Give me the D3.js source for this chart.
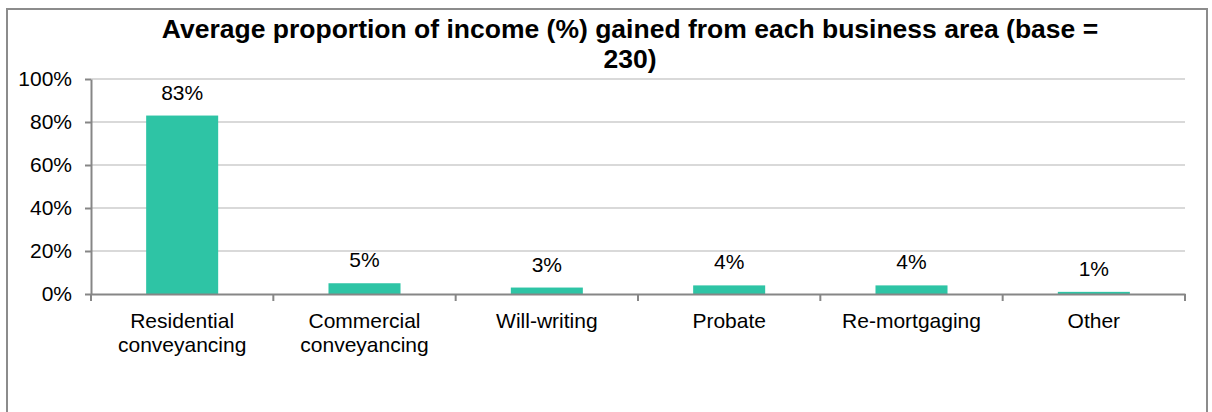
<!DOCTYPE html>
<html>
<head>
<meta charset="utf-8">
<script src="https://cdn.jsdelivr.net/npm/d3@7"></script>
<style>
  html, body { margin: 0; padding: 0; background: #fff; }
  svg { display: block; font-family: "Liberation Sans", Arial, sans-serif; }
</style>
</head>
<body>
<svg id="chart" width="1212" height="412"></svg>
<script>
const categories = ["Residential conveyancing", "Commercial conveyancing", "Will-writing", "Probate", "Re-mortgaging", "Other"];
const values = [83, 5, 3, 4, 4, 1];
const yTicks = [0, 20, 40, 60, 80, 100];
const titleLines = ["Average proportion of income (%) gained from each business area (base =", "230)"];

const svg = d3.select("#chart");
const plot = { left: 91, right: 1185, top: 79, bottom: 294 };

// outer chart frame
svg.append("rect")
  .attr("x", 7).attr("y", 9)
  .attr("width", 1200).attr("height", 420)
  .attr("fill", "#fff")
  .attr("stroke", "#8c8c8c").attr("stroke-width", 2);

const x = d3.scaleBand().domain(categories).range([plot.left, plot.right]).padding(0);
const y = d3.scaleLinear().domain([0, 100]).range([plot.bottom, plot.top]);

// title
svg.append("text")
  .attr("x", 630).attr("y", 37.5)
  .attr("text-anchor", "middle")
  .attr("font-size", 26.5).attr("font-weight", "bold").attr("fill", "#000")
  .selectAll("tspan").data(titleLines).join("tspan")
  .attr("x", 630).attr("dy", (d, i) => i === 0 ? 0 : 30.5)
  .text(d => d);

// horizontal gridlines
svg.append("g").selectAll("line").data(yTicks.filter(t => t > 0)).join("line")
  .attr("x1", plot.left).attr("x2", plot.right)
  .attr("y1", d => y(d)).attr("y2", d => y(d))
  .attr("stroke", "#d9d9d9").attr("stroke-width", 2);

// bars
const barW = x.bandwidth() * 0.395;
svg.append("g").selectAll("rect").data(values).join("rect")
  .attr("x", (d, i) => x(categories[i]) + (x.bandwidth() - barW) / 2)
  .attr("y", d => y(d))
  .attr("width", barW)
  .attr("height", d => y(0) - y(d))
  .attr("fill", "#2ec4a5");

// value labels
svg.append("g").selectAll("text").data(values).join("text")
  .attr("x", (d, i) => x(categories[i]) + x.bandwidth() / 2)
  .attr("y", d => y(d) - 16)
  .attr("text-anchor", "middle")
  .attr("font-size", 21).attr("fill", "#000")
  .text(d => d + "%");

// y axis
const yAxis = svg.append("g")
  .attr("transform", `translate(${plot.left},0)`)
  .call(d3.axisLeft(y).tickValues(yTicks).tickFormat(d => d + "%").tickSize(6).tickSizeOuter(0).tickPadding(13));
yAxis.select(".domain").attr("stroke", "#868686").attr("stroke-width", 2);
yAxis.selectAll(".tick line").attr("stroke", "#868686").attr("stroke-width", 2);
yAxis.selectAll(".tick text")
  .attr("font-family", "Liberation Sans, Arial, sans-serif")
  .attr("font-size", 21).attr("fill", "#000");

// x axis: baseline with ticks at category boundaries
const xAxis = svg.append("g")
  .attr("transform", `translate(0,${plot.bottom})`)
  .call(d3.axisBottom(x).tickSize(0).tickSizeOuter(0).tickFormat(""));
xAxis.select(".domain").attr("stroke", "#868686").attr("stroke-width", 2);
xAxis.selectAll(".tick").remove();

const bounds = categories.map(c => x(c)).concat([x.range()[1]]);
xAxis.selectAll("line.bound").data(bounds).join("line")
  .attr("class", "bound")
  .attr("x1", d => d).attr("x2", d => d)
  .attr("y1", 0).attr("y2", 7)
  .attr("stroke", "#868686").attr("stroke-width", 2);

// category labels, wrapped on spaces
const catText = svg.append("g").selectAll("text").data(categories).join("text")
  .attr("text-anchor", "middle")
  .attr("font-size", 21).attr("fill", "#000")
  .attr("y", 328);
catText.each(function(c) {
  const cx = x(c) + x.bandwidth() / 2;
  d3.select(this).selectAll("tspan").data(c.split(" ")).join("tspan")
    .attr("x", cx)
    .attr("dy", (d, i) => i === 0 ? 0 : 23.5)
    .text(d => d);
});
</script>
</body>
</html>
